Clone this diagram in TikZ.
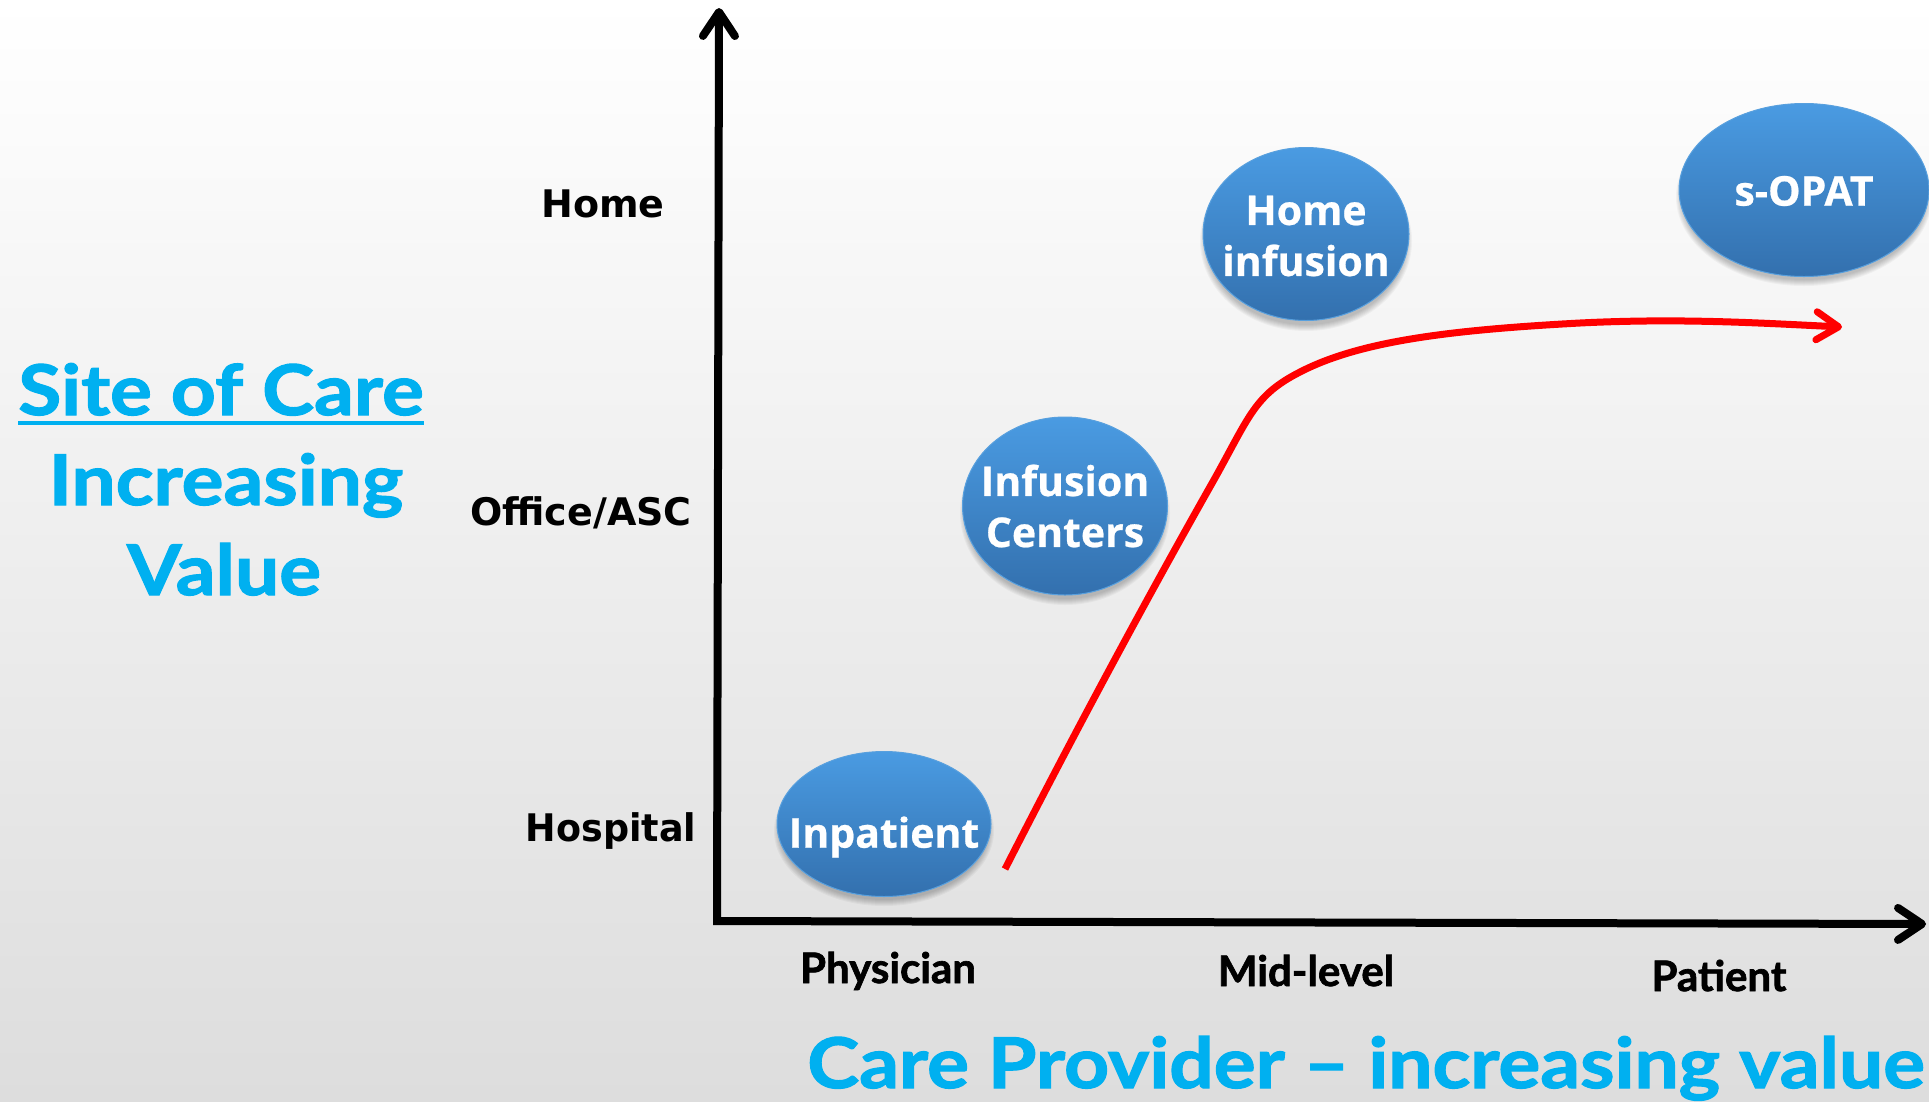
\documentclass[tikz,border=0pt]{standalone}
\usepackage{fontspec}
\setmainfont{Open Sans}[BoldFeatures={FakeBold=0.6}]
\newfontfamily\gillfont{Lato}[BoldFeatures={FakeBold=1.6}]
\newfontfamily\tahfont{DejaVu Sans}
\usetikzlibrary{shapes.geometric,arrows.meta}

\definecolor{bgmid}{RGB}{246,246,246}
\definecolor{bgbot}{RGB}{221,221,221}
\definecolor{bubtop}{RGB}{74,155,226}
\definecolor{bubbot}{RGB}{51,112,174}
\definecolor{bubedge}{RGB}{88,160,222}
\definecolor{titleblue}{RGB}{0,176,240}
\definecolor{curvered}{RGB}{255,0,0}

\tikzset{
  bubble/.style={ellipse, inner sep=0pt, top color=bubtop, bottom color=bubbot,
    draw=bubedge, line width=1pt},
  bubbletext/.style={inner sep=0pt, text=white, align=center,
    font=\bfseries\fontsize{41}{51}\selectfont},
  levellabel/.style={anchor=base, inner sep=0pt, text=black,
    font=\tahfont\bfseries\fontsize{38}{44}\selectfont},
  providerlabel/.style={anchor=base, inner sep=0pt, text=black,
    font=\gillfont\bfseries\fontsize{42}{48}\selectfont},
  bigtitle/.style={anchor=base, inner sep=0pt, text=titleblue,
    font=\gillfont\bfseries\fontsize{70}{80}\selectfont},
  axisline/.style={line width=8pt, line join=miter,
    {Straight Barb[length=24pt,width=32pt,round]}-{Straight Barb[length=24pt,width=32pt,round]}},
  trend/.style={line width=7pt, curvered,
    -{Straight Barb[length=22pt,width=28pt,round]}}
}

% soft shadow under a bubble: centre, x radius, y radius
\newcommand\bubshadow[3]{%
  \foreach \k in {0,...,6}{%
    \fill[black,opacity=0.035] (#1) ++(0,7) ellipse [x radius={#2-3+\k}, y radius={#3-3+\k}];}}

\begin{document}
\begin{tikzpicture}[x=1pt,y=-1pt]
\useasboundingbox (0,0) rectangle (1929,1101);
\clip (0,0) rectangle (1929,1101);

% background
\shade[top color=white, middle color=bgmid, bottom color=bgbot] (0,0) rectangle (1929,1101);

% axes
\coordinate (O) at (717,921);
\coordinate (ytip) at (719,8);
\coordinate (xtip) at (1926,924);
\draw[axisline] (ytip) -- (O) -- (xtip);

% level labels on the vertical axis
\node[levellabel] (home) at (603,217) {Home};
\node[levellabel] (office) at (581,525) {Office/ASC};
\node[levellabel, xscale=0.96] (hospital) at (611,841) {Hospital};

% provider labels on the horizontal axis
\node[providerlabel] (physician) at (888,983) {Physician};
\node[providerlabel] (midlevel) at (1306,986) {Mid-level};
\node[providerlabel] (patient) at (1719,991) {Patient};

% axis titles
\node[bigtitle, xscale=1.12] (site) at (221,415) {Site of Care};
\draw[titleblue, line width=4pt] ([yshift=-8pt]site.base west) -- ([yshift=-8pt]site.base east);
\node[bigtitle, xscale=1.12] (increasing) at (226,505) {Increasing};
\node[bigtitle, xscale=1.12] (value) at (224,595) {Value};
\node[bigtitle, xscale=1.12] (provider) at (1366,1088) {Care Provider \textendash\ increasing value};

% trend curve
\coordinate (redstart) at (1005,869);
\coordinate (redend) at (1842,327);
\draw[trend] (redstart) .. controls (1085,712) and (1160,575) .. (1215,478)
  .. controls (1250,415) and (1255,395) .. (1300,372)
  .. controls (1360,341) and (1450,330) .. (1580,323)
  .. controls (1680,318) and (1760,323) .. (redend);

% sites of care
\bubshadow{884,824}{107}{72}
\node[bubble, minimum width=214pt, minimum height=145pt] (inpatient) at (884,824) {};
\node[bubbletext] (inpatienttext) at ([yshift=-13pt]inpatient.center) {Inpatient};
\bubshadow{1065,506}{102}{89}
\node[bubble, minimum width=205pt, minimum height=178pt] (centers) at (1065,506) {};
\node[bubbletext] (centerstext) at (centers.center) {Infusion\\Centers};
\bubshadow{1306,234}{103}{87}
\node[bubble, minimum width=206pt, minimum height=173pt] (homeinf) at (1306,234) {};
\node[bubbletext] (homeinftext) at ([yshift=-2pt]homeinf.center) {Home\\infusion};
\bubshadow{1804,190}{125}{86}
\node[bubble, minimum width=250pt, minimum height=173pt] (sopat) at (1804,190) {};
\node[bubbletext] (sopattext) at ([yshift=-1pt]sopat.center) {s-OPAT};
\end{tikzpicture}
\end{document}
